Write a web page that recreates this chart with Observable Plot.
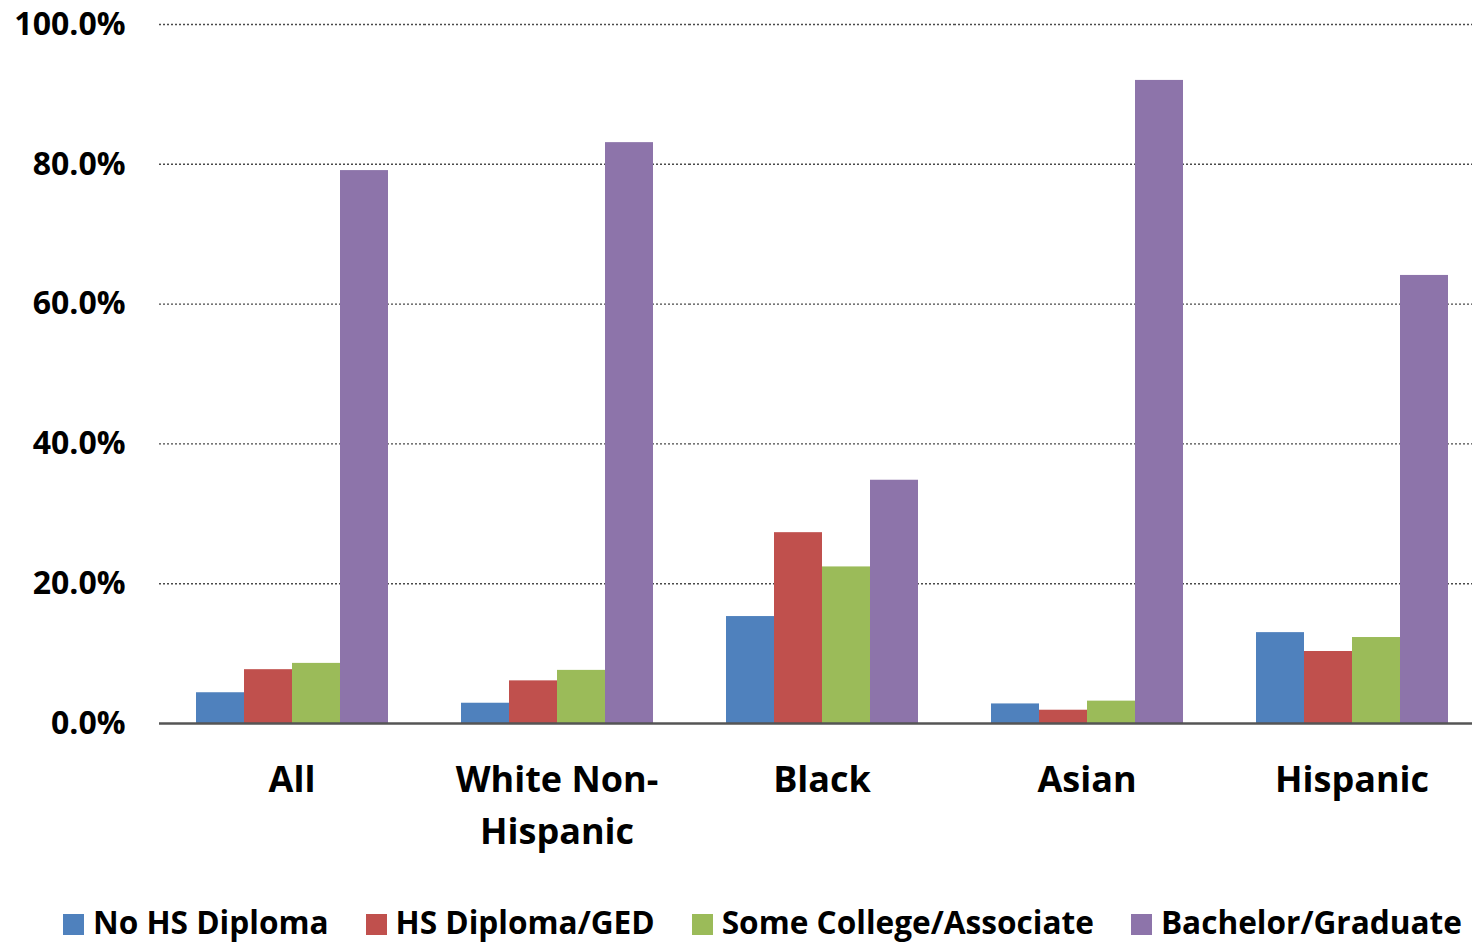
<!DOCTYPE html>
<html>
<head>
<meta charset="utf-8">
<script src="https://cdn.jsdelivr.net/npm/d3@7"></script>
<script src="https://cdn.jsdelivr.net/npm/@observablehq/plot@0.6"></script>
<style>
  html, body { margin: 0; padding: 0; background: #fff; overflow: hidden; width: 1472px; height: 942px; }
  #chart { position: absolute; left: 0; top: 0; }
  #legend { position: absolute; left: 0; top: 902px; width: 1525px; display: flex; justify-content: center; gap: 37px;
            font-family: "Open Sans", sans-serif; font-weight: bold; font-size: 31.6px; line-height: 40px; color: #000; white-space: nowrap; }
  .item { display: flex; align-items: flex-start; gap: 9px; }
  .sw { width: 21px; height: 21px; margin-top: 12px; flex: none; }
</style>
</head>
<body>
<div id="chart"></div>
<div id="legend"></div>
<script>
const groups = ["All", "White Non-Hispanic", "Black", "Asian", "Hispanic"];
const levels = ["No HS Diploma", "HS Diploma/GED", "Some College/Associate", "Bachelor/Graduate"];
const noHSDiploma = [4.4, 2.9, 15.3, 2.8, 13.0];
const hsDiplomaGED = [7.7, 6.1, 27.3, 1.9, 10.3];
const someCollege = [8.6, 7.6, 22.4, 3.2, 12.3];
const bachelorGraduate = [79.1, 83.1, 34.8, 92.0, 64.1];
const colors = ["#4F81BD", "#C0504D", "#9BBB59", "#8D74AA"];
const yTicks = [0, 20, 40, 60, 80, 100];

const series = [noHSDiploma, hsDiplomaGED, someCollege, bachelorGraduate];
const data = [];
groups.forEach((g, i) => levels.forEach((l, j) => data.push({group: g, level: l, value: series[j][i]})));

const chart = Plot.plot({
  width: 1484,
  height: 880,
  marginLeft: 158,
  marginRight: 0,
  marginTop: 24,
  marginBottom: 157,
  style: {fontFamily: "Open Sans, sans-serif", fontWeight: "bold", color: "#000", background: "#fff", maxWidth: "none", overflow: "hidden"},
  fx: {domain: groups, padding: 0, label: null, axis: null},
  x: {domain: levels, paddingInner: 0, paddingOuter: 0.74, axis: null},
  y: {domain: [0, 100], label: null},
  color: {domain: levels, range: colors},
  marks: [
    Plot.ruleY(yTicks.filter(d => d > 0), {stroke: "#4a4a4a", strokeWidth: 1.4, strokeDasharray: "2,2"}),
    Plot.barY(data, {fx: "group", x: "level", y: "value", fill: "level"}),
    Plot.ruleY([0], {stroke: "#555", strokeWidth: 2.5}),
    Plot.axisY({ticks: yTicks, tickFormat: d => d.toFixed(1) + "%", tickSize: 0, tickPadding: 34, fontSize: 32, label: null}),
    Plot.axisFx({anchor: "bottom", tickSize: 0, tickPadding: 32, fontSize: 36, lineHeight: 1.44, label: null,
                 tickFormat: d => d === "White Non-Hispanic" ? "White Non-\nHispanic" : d})
  ]
});
document.getElementById("chart").appendChild(chart);

const legend = document.getElementById("legend");
levels.forEach((l, j) => {
  const it = document.createElement("div");
  it.className = "item";
  const sw = document.createElement("span");
  sw.className = "sw";
  sw.style.background = colors[j];
  const tx = document.createElement("span");
  tx.textContent = l;
  it.appendChild(sw);
  it.appendChild(tx);
  legend.appendChild(it);
});
</script>
</body>
</html>
